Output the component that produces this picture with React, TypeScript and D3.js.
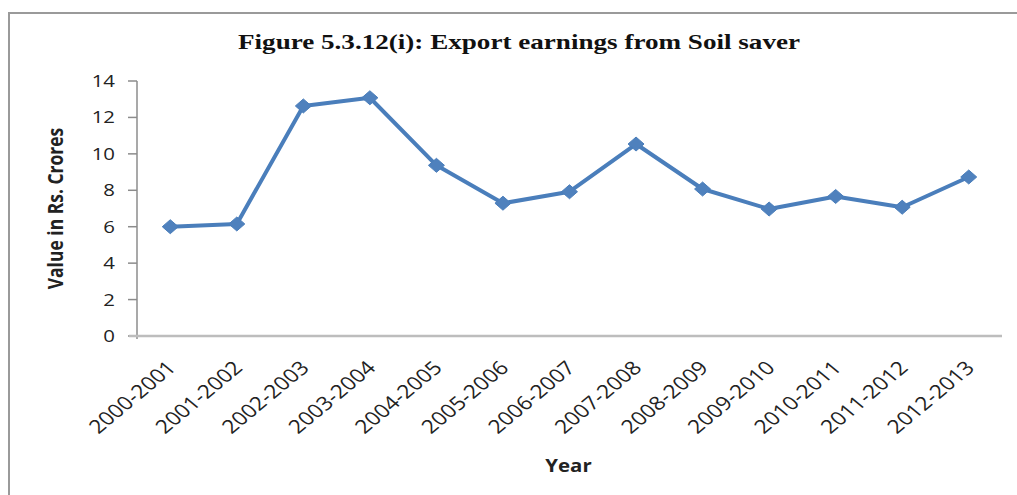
import React from "react";
import * as d3 from "d3";

const categories = [
  "2000-2001", "2001-2002", "2002-2003", "2003-2004", "2004-2005", "2005-2006", "2006-2007",
  "2007-2008", "2008-2009", "2009-2010", "2010-2011", "2011-2012", "2012-2013",
];
const values = [6.0, 6.15, 12.63, 13.08, 9.37, 7.29, 7.92, 10.54, 8.07, 6.97, 7.66, 7.07, 8.73];
const yTicks = [0, 2, 4, 6, 8, 10, 12, 14];
const title = "Figure 5.3.12(i): Export earnings from Soil saver";
const yTitle = "Value in Rs. Crores";
const xTitle = "Year";

const W = 1017;
const H = 495;
const plot = { left: 137, right: 1002, top: 81, bottom: 336 };
const SX = 1.2; // horizontal stretch of the reference picture's text
const FONT = "'Open Sans', sans-serif";
const LINE = "#4A7EBB";
const MARK = "#4F81BD";

export default function App() {
  const x = d3.scaleBand<string>().domain(categories).range([plot.left, plot.right]);
  const y = d3.scaleLinear().domain([0, 14]).range([plot.bottom, plot.top]);
  const cx = (c: string) => (x(c) as number) + x.bandwidth() / 2;
  const line = d3
    .line<number>()
    .x((_, i) => cx(categories[i]))
    .y((v) => y(v));
  const diamond = (px: number, py: number) =>
    `M${px},${py - 7}L${px + 8},${py}L${px},${py + 7}L${px - 8},${py}Z`;

  return (
    <svg
      width={W}
      height={H}
      style={{ position: "absolute", left: 0, top: 0, background: "#fff" }}
    >
      <rect x={0} y={0} width={W} height={H} fill="#fff" />
      <rect x={9} y={13} width={W + 20} height={H + 20} fill="none" stroke="#9a9a9a" strokeWidth={2} />

      <text
        x={238}
        y={49}
        textLength={562}
        lengthAdjust="spacingAndGlyphs"
        fontFamily="'Liberation Serif', 'Times New Roman', serif"
        fontWeight="bold"
        fontSize={21}
        fill="#111"
      >
        {title}
      </text>

      {/* y axis */}
      <line x1={plot.left} x2={plot.left} y1={plot.top} y2={plot.bottom + 3} stroke="#8c8c8c" strokeWidth={1.5} />
      {yTicks.map((t) => (
        <g key={t}>
          <line x1={plot.left - 9} x2={plot.left} y1={y(t)} y2={y(t)} stroke="#8c8c8c" strokeWidth={1.5} />
          <text
            transform={`translate(${plot.left - 22},${y(t) + 6}) scale(${SX},1)`}
            textAnchor="end"
            fontFamily={FONT}
            fontSize={17}
            fill="#222"
          >
            {t}
          </text>
        </g>
      ))}

      {/* x axis */}
      <line x1={plot.left - 8} x2={plot.right} y1={plot.bottom} y2={plot.bottom} stroke="#bdbdbd" strokeWidth={2.5} />
      {categories.map((c) => (
        <text
          key={c}
          transform={`translate(${cx(c) + 7},${plot.bottom + 33}) scale(${SX},1) rotate(-45)`}
          textAnchor="end"
          fontFamily={FONT}
          fontSize={19}
          fill="#222"
        >
          {c}
        </text>
      ))}

      <text
        transform={`translate(${(plot.left + plot.right) / 2 - 1},${472}) scale(${SX},1)`}
        textAnchor="middle"
        fontFamily={FONT}
        fontWeight="bold"
        fontSize={17}
        fill="#222"
      >
        {xTitle}
      </text>
      <text
        transform={`translate(${63},${(plot.top + plot.bottom) / 2}) scale(${SX},1) rotate(-90)`}
        textAnchor="middle"
        fontFamily={FONT}
        fontWeight="bold"
        fontSize={17.5}
        fill="#222"
      >
        {yTitle}
      </text>

      <path d={line(values) ?? ""} fill="none" stroke={LINE} strokeWidth={4} strokeLinejoin="round" />
      {values.map((v, i) => (
        <path key={i} d={diamond(cx(categories[i]), y(v))} fill={MARK} stroke={LINE} strokeWidth={1} />
      ))}
    </svg>
  );
}
